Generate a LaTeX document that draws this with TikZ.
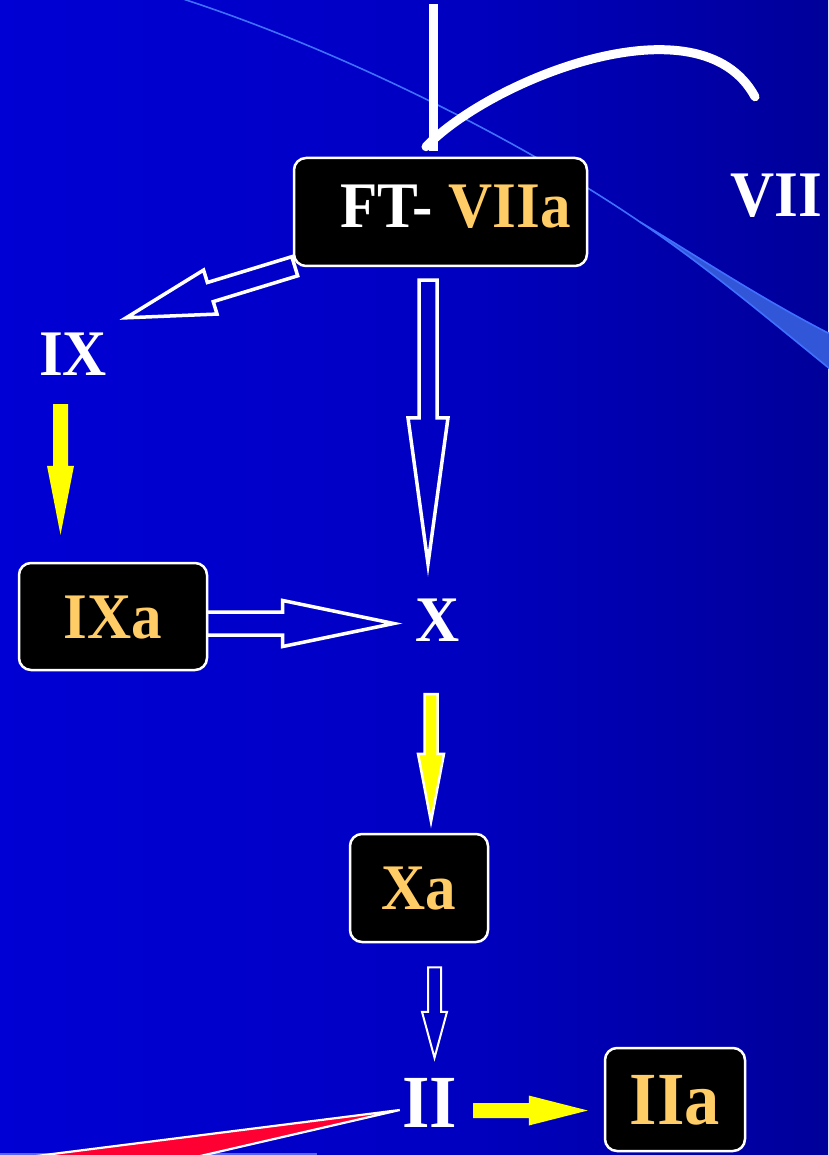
\documentclass[tikz,border=0pt]{standalone}
\usepackage{fontspec}
\setmainfont{Liberation Serif}[FakeStretch=0.94]
\usetikzlibrary{calc}
\definecolor{bgL}{RGB}{0,0,228}
\definecolor{bgM}{RGB}{0,0,196}
\definecolor{bgR}{RGB}{0,0,112}
\definecolor{gold}{RGB}{255,204,102}
\definecolor{swoosh}{RGB}{50,86,216}
\definecolor{swooshedge}{RGB}{64,112,255}
\definecolor{redw}{RGB}{255,0,51}
\definecolor{yel}{RGB}{255,255,0}
\definecolor{strip}{RGB}{90,100,235}
\pgfdeclarehorizontalshading{bgshade}{100bp}{color(0bp)=(bgL); color(50bp)=(bgM); color(100bp)=(bgR)}
\pgfdeclarelayer{background}
\pgfdeclarelayer{arrows}
\pgfsetlayers{background,arrows,main}
% #1 style, #2 tail, #3 tip, #4 shaft half width, #5 head half width, #6 head length
\newcommand\blockarrow[6]{%
  \coordinate (bahead) at ($(#3)!#6!(#2)$);
  \path[#1] ($(#2)!#4!90:(#3)$) -- ($(bahead)!#4!90:(#3)$) -- ($(bahead)!#5!90:(#3)$)
    -- (#3) -- ($(bahead)!#5!-90:(#3)$) -- ($(bahead)!#4!-90:(#3)$) -- ($(#2)!#4!-90:(#3)$) -- cycle;
}
\begin{document}
\begin{tikzpicture}[x=1pt,y=-1pt,
  box/.style={rounded corners=12pt, fill=black, draw=white, line width=2.5pt, inner sep=0pt,
    text height=43pt, text depth=0pt, font=\bfseries\fontsize{65}{70}\selectfont, text=gold},
  lbl/.style={text=white, inner sep=0pt, text height=43pt, text depth=0pt,
    font=\bfseries\fontsize{65}{70}\selectfont},
  big/.style={font=\bfseries\fontsize{75}{80}\selectfont, text height=50pt},
  hollow/.style={draw=white, line width=3.5pt, line join=miter, miter limit=10},
  thinhollow/.style={draw=white, line width=2pt, line join=miter, miter limit=10},
  solidy/.style={fill=yel},
  outy/.style={fill=yel, draw=white, line width=2.5pt, line join=miter, miter limit=10},
  feed/.style={draw=white, line width=9pt},
]
\useasboundingbox (0,0) rectangle (828,1155);

% nodes
\node[box, minimum width=293pt, minimum height=108pt, text depth=11pt] (ft) at (440.5,212)
  {\hspace*{30pt}\textcolor{white}{FT-} VIIa};
\node[lbl] (vii) at (776,195) {VII};
\node[lbl] (ix) at (73,354) {IX};
\node[box, minimum width=188pt, minimum height=107pt] (ixa) at (113,616.5) {IXa};
\node[lbl] (x) at (438,620) {X};
\node[box, minimum width=138pt, minimum height=108pt] (xa) at (419,888) {Xa};
\node[lbl, big] (ii) at (430,1102) {II};
\node[box, big, minimum width=140pt, minimum height=103pt] (iia) at (675,1099.5) {IIa};

% background
\begin{pgfonlayer}{background}
  \shade[shading=bgshade] (0,0) rectangle (828,1155);
  \fill[strip] (0,1153) rectangle (317,1156);
  \fill[swoosh] (640,222) .. controls (700,262) and (760,312) .. (830,369)
    -- (830,334) .. controls (760,298) and (700,258) .. cycle;
  \draw[swooshedge, line width=1.6pt] (183,-1) .. controls (340,50) and (520,140) .. (640,222)
    .. controls (700,258) and (760,298) .. (830,334);
  \draw[swooshedge, line width=1.6pt] (640,222) .. controls (700,262) and (760,312) .. (830,369);
\end{pgfonlayer}

% connectors
\begin{pgfonlayer}{arrows}
  \coordinate (topfree) at (433,4);
  \draw[feed] (topfree) -- ($(ft.north)+(-7.5,-6)$);
  \coordinate (arcfree) at ($(vii.north)+(-21,-76.5)$);
  \draw[feed, line cap=round] (arcfree) .. controls (700,-5) and (490,80) .. ($(ft.north)+(-14.5,-10)$);

  \coordinate (a1s) at ($(ft.south west)+(2,-1)$);
  \coordinate (a1e) at ($(ix.north east)+(19,-14.5)$);
  \blockarrow{hollow}{a1s}{a1e}{10pt}{23pt}{88pt}

  \coordinate (a2s) at ($(ft.south)+(-12.5,13)$);
  \coordinate (a2e) at ($(x.north)+(-10,-34.5)$);
  \blockarrow{hollow}{a2s}{a2e}{9pt}{20pt}{146pt}

  \coordinate (a3s) at ($(ix.south)+(-12.5,28.5)$);
  \coordinate (a3e) at ($(ixa.north)+(-52.5,-27)$);
  \blockarrow{solidy}{a3s}{a3e}{7.5pt}{13.5pt}{69pt}

  \coordinate (a4s) at ($(ixa.east)+(-2,7)$);
  \coordinate (a4e) at ($(x.west)+(-22,3.5)$);
  \blockarrow{hollow}{a4s}{a4e}{11.5pt}{23pt}{111pt}

  \coordinate (a5s) at ($(x.south)+(-7,52.5)$);
  \coordinate (a5e) at ($(xa.north)+(12,-11)$);
  \blockarrow{outy}{a5s}{a5e}{6.5pt}{13pt}{68pt}

  \coordinate (a6s) at ($(xa.south)+(15.5,24)$);
  \coordinate (a6e) at ($(ii.north)+(4.5,-19)$);
  \blockarrow{thinhollow}{a6s}{a6e}{6.5pt}{12.5pt}{46pt}

  \coordinate (a7s) at ($(ii.east)+(15.6,8.5)$);
  \coordinate (a7e) at ($(iia.west)+(-16,11)$);
  \blockarrow{solidy}{a7s}{a7e}{7.5pt}{15pt}{59pt}

  \coordinate (redtip) at ($(ii.west)+(-2.6,8)$);
  \coordinate (redup) at (5,1160);
  \coordinate (redlow) at (183,1160);
  \draw[fill=redw, draw=white, line width=2.2pt, line join=miter, miter limit=10]
    (redtip) -- (redup) -- (redlow) -- cycle;
\end{pgfonlayer}
\end{tikzpicture}
\end{document}
